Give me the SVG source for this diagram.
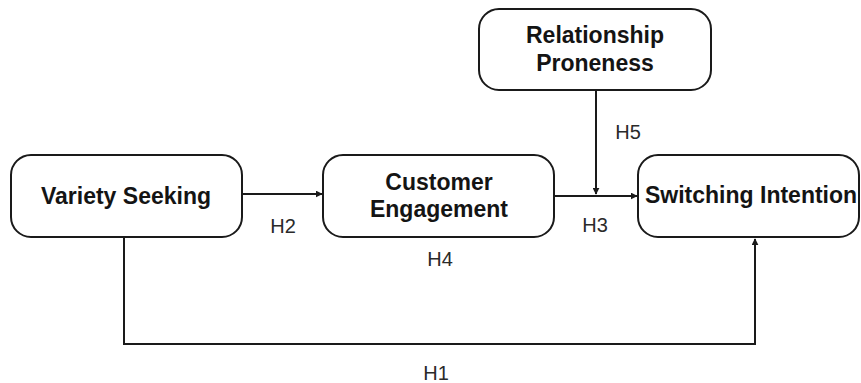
<svg xmlns="http://www.w3.org/2000/svg" width="861" height="383" viewBox="0 0 861 383">
<defs>
<style>
.box{fill:#fff;stroke:#1a1a1a;stroke-width:2}
.t{font-family:"Liberation Sans",Arial,sans-serif;font-weight:bold;font-size:23px;fill:#141414}
.l{font-family:"Liberation Sans",Arial,sans-serif;font-size:20px;fill:#2a2a2a}
.c{fill:none;stroke:#1a1a1a;stroke-width:2}
</style>
<marker id="ah" viewBox="0 0 10 10" refX="9" refY="5" markerWidth="7" markerHeight="7" markerUnits="userSpaceOnUse" orient="auto">
<path d="M0,0 L10,5 L0,10 Z" fill="#1a1a1a"/>
</marker>
</defs>
<rect width="861" height="383" fill="#fff"/>
<g id="connectors">
<line class="c" x1="242" y1="194" x2="322" y2="194" marker-end="url(#ah)"/>
<line class="c" x1="554" y1="196" x2="637" y2="196" marker-end="url(#ah)"/>
<line class="c" x1="596" y1="90" x2="596" y2="194" marker-end="url(#ah)"/>
<polyline class="c" points="124,237 124,344 755,344 755,239" marker-end="url(#ah)"/>
<text class="l" x="283" y="233" text-anchor="middle">H2</text>
<text class="l" x="595" y="232" text-anchor="middle">H3</text>
<text class="l" x="440" y="266" text-anchor="middle">H4</text>
<text class="l" x="628" y="139" text-anchor="middle">H5</text>
<text class="l" x="436" y="380" text-anchor="middle">H1</text>
</g>
<g id="variety-seeking">
<rect class="box" x="11" y="155" width="231" height="82" rx="20"/>
<text class="t" x="126" y="204" text-anchor="middle">Variety Seeking</text>
</g>
<g id="customer-engagement">
<rect class="box" x="323" y="155" width="231" height="82" rx="20"/>
<text class="t" x="439" y="190" text-anchor="middle">Customer</text>
<text class="t" x="439" y="217" text-anchor="middle">Engagement</text>
</g>
<g id="switching-intention">
<rect class="box" x="638" y="155" width="221" height="82" rx="20"/>
<text class="t" x="645" y="203">Switching Intention</text>
</g>
<g id="relationship-proneness">
<rect class="box" x="479" y="9" width="232" height="81" rx="20"/>
<text class="t" x="595" y="43" text-anchor="middle">Relationship</text>
<text class="t" x="595" y="71" text-anchor="middle">Proneness</text>
</g>
</svg>
